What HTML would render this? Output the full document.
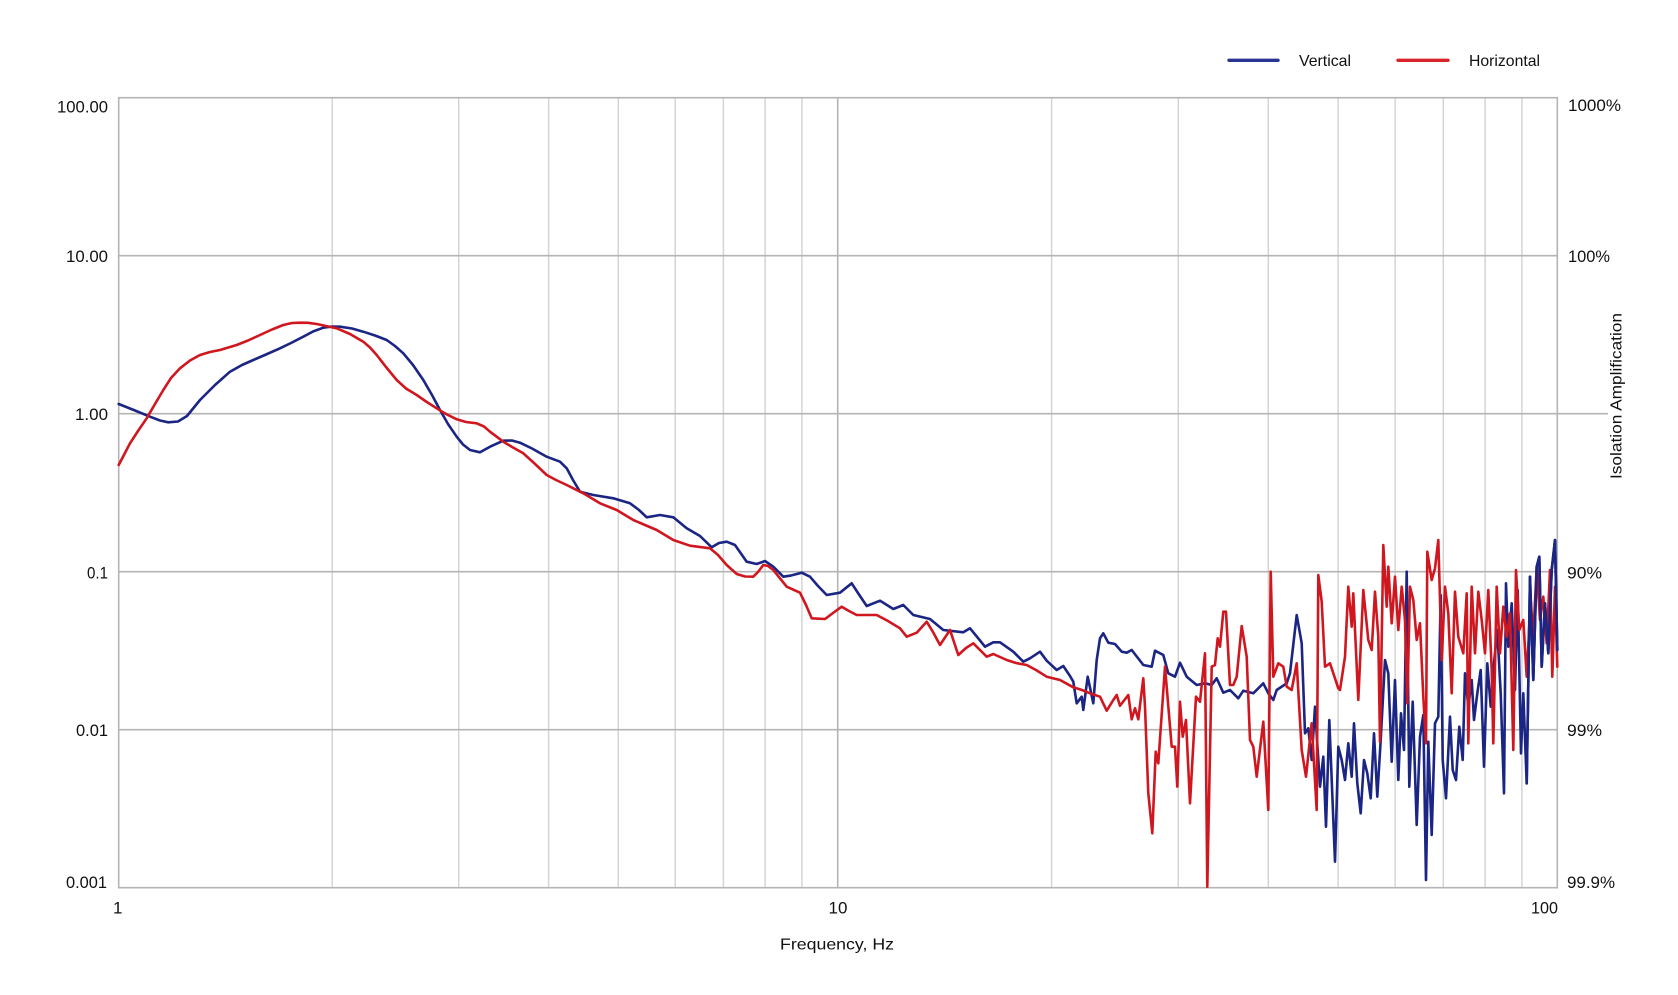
<!DOCTYPE html>
<html>
<head>
<meta charset="utf-8">
<style>
  html,body{margin:0;padding:0;background:#fff;}
  svg{display:block;}
  text{font-family:"Liberation Sans",Arial,sans-serif;fill:#111;}
</style>
</head>
<body>
<svg width="1678" height="995" viewBox="0 0 1678 995" xmlns="http://www.w3.org/2000/svg">
  <rect x="0" y="0" width="1678" height="995" fill="#fff"/>

  <!-- minor vertical gridlines -->
  <g stroke="#d2d2d2" stroke-width="1.4">
    <line x1="332.2" y1="97.7" x2="332.2" y2="887.7"/>
    <line x1="458.7" y1="97.7" x2="458.7" y2="887.7"/>
    <line x1="548.6" y1="97.7" x2="548.6" y2="887.7"/>
    <line x1="618.3" y1="97.7" x2="618.3" y2="887.7"/>
    <line x1="675.2" y1="97.7" x2="675.2" y2="887.7"/>
    <line x1="723.4" y1="97.7" x2="723.4" y2="887.7"/>
    <line x1="765.1" y1="97.7" x2="765.1" y2="887.7"/>
    <line x1="801.9" y1="97.7" x2="801.9" y2="887.7"/>
    <line x1="1051.6" y1="97.7" x2="1051.6" y2="887.7"/>
    <line x1="1178.3" y1="97.7" x2="1178.3" y2="887.7"/>
    <line x1="1268.3" y1="97.7" x2="1268.3" y2="887.7"/>
    <line x1="1338.1" y1="97.7" x2="1338.1" y2="887.7"/>
    <line x1="1395.1" y1="97.7" x2="1395.1" y2="887.7"/>
    <line x1="1443.3" y1="97.7" x2="1443.3" y2="887.7"/>
    <line x1="1485.1" y1="97.7" x2="1485.1" y2="887.7"/>
    <line x1="1521.9" y1="97.7" x2="1521.9" y2="887.7"/>
  </g>
  <!-- major gridlines -->
  <g stroke="#b4b4b4" stroke-width="1.6">
    <line x1="837.7" y1="97.7" x2="837.7" y2="887.7"/>
    <line x1="118.7" y1="255.7" x2="1557.3" y2="255.7"/>
    <line x1="118.7" y1="413.7" x2="1608" y2="413.7"/>
    <line x1="118.7" y1="571.7" x2="1557.3" y2="571.7"/>
    <line x1="118.7" y1="729.7" x2="1557.3" y2="729.7"/>
    <rect x="118.7" y="97.7" width="1438.6" height="790" fill="none"/>
  </g>

  <!-- Vertical (blue) -->
  <polyline fill="none" stroke="#1b2583" stroke-width="2.6" stroke-linejoin="round" stroke-linecap="round" points="
  118.7,404 135,410.5 150,416.7 160,420.5 168.3,422.3 178,421.5 187,416 200,400 215,385 230,371.7 242,365 253.3,360 266,354.5 280,348.3 292,342.5 303.3,336.7 313,331.5 323.3,327.7 332,326.5 340,326.7 352,328.5 363.3,331.7 375,335.5 386.7,340 395,346 403.3,353.3 413,365 423.3,380 432,395 440,410 448,424 456.7,436.7 463,444.5 470,450 480,452.3 490,446.7 503.3,440.7 512,440.5 520,442.7 532,448.5 546.7,456.7 560,461.7 566.7,468.3 573,480 580,491.7 593.3,495 613.3,498.3 630,503.3 639,510 646.7,517.3 660,515 673.3,517.3 686.7,528.3 700,536 711.7,547.3 719,543 726.7,541.7 735,545 746.7,561.7 756.7,564 765,561 773.3,566.7 783.3,576.7 790,575.7 801.7,572.7 810,576.7 818,586 826.7,595 840,592.7 851.7,583.3 858,593 866.7,606 880,600.7 893.3,609 903.3,605 913.3,615 930,619 943.3,630 963.3,632.3 970,628.3 978,638 985,646.7 993.3,642.3 1000,642.3 1013.3,651.7 1023.3,661.7 1030,658.3 1040,651.7 1046.7,660.7 1056.7,670 1063.3,666 1070,676 1073.3,681.7 1076.7,703.3 1081.7,696.7 1083.3,710 1087.7,676.7 1093.3,703.3 1096.7,660 1100,638.3 1103.3,633.3 1108.3,642.7 1115,644 1121.7,651.7 1126.7,652.7 1131.7,650 1143.3,665 1151.7,666.7 1155,650.7 1163.3,655 1168.3,673.3 1175,676.7 1180,662.7 1186.7,676.7 1196.7,685 1205,683.3 1211.7,685 1216.7,678.3 1223.3,692.7 1230,690 1238.3,698.3 1243.3,690.7 1253.3,693.3 1263.3,683.3 1268.3,693.3 1273.3,700 1276.7,690 1286.7,683.3 1290,673.3 1296.7,615 1301.7,643.3 1305,733.3 1308.3,728.3 1311.7,760 1315,706.7 1320,786.7 1323.3,756.7 1326,826.7 1329.3,720 1335,861.7 1338.3,746.7 1341.7,760 1345,780 1348.3,743.3 1351.7,776.7 1354,723.3 1357.3,783.3 1360.7,813.3 1364,760 1367.3,773.3 1370.7,798.3 1374,733.3 1377.3,796.7 1380.7,740 1385,660 1388.3,673.3 1391.7,761.7 1395,680 1398.3,780 1401,713.3 1404,750 1406.7,571.7 1409.3,786.7 1412.7,701.7 1416.7,825 1420,736.7 1423.3,715 1426,880 1428.3,741.7 1431.7,835 1435,723.3 1438.3,716.7 1440.7,595 1442.7,760 1446,798.3 1450,716.7 1452.7,770 1456,780 1459.3,726.7 1462.7,760 1465,673.3 1468.3,706.7 1471.7,680 1474,720 1477.3,693.3 1480.7,670 1484,766.7 1487.3,663.3 1490.7,706.7 1494,663.3 1497.3,630 1500.7,693.3 1504,793.3 1506,583.3 1508.3,646.7 1511.7,603.3 1515,690 1517.7,590 1521,753.3 1523.3,693.3 1526.7,783.3 1530,576.7 1533.3,680 1536.7,566.7 1539.3,556.7 1541.7,666.7 1545,603.3 1548.3,653.3 1551.7,570 1555,540 1557.3,650"/>

  <!-- Horizontal (red) -->
  <polyline fill="none" stroke="#d0171f" stroke-width="2.6" stroke-linejoin="round" stroke-linecap="round" points="
  118.7,465 130,443.3 138,431 146.7,418.3 155,404 163.3,390 171,378 180,368.3 190,360.5 200,355 210,352 220,350 236.7,345 248,340.5 260,335 272,329.5 283.3,325 292,323 300,322.7 308,322.8 316.7,324 326,326 336.7,328.3 350,334 363.3,341.7 370,347.5 376.7,355 386,367 396.7,380 406,388.5 416.7,395 426,401.5 436.7,408.3 446,414 456.7,419.3 466,422 476.7,423.3 484,426.5 490,431.7 503.3,441.7 513,447.5 523.3,453.3 534,463 546.7,475 556,480 566.7,485 583.3,493.3 600,503.3 616.7,510 633.3,520 645,525 656.7,530 673.3,540 690,545.7 710,548.3 718,555 726.7,565 736.7,574 745,576.5 753.3,576.7 758,572 763.3,565 768,566 773.3,570 786.7,586.7 800,592.7 806,605 811.7,618.3 825,619 833,613 841.7,606.7 849,611 856.7,615 866,615 876.7,615 888,621 900,628.3 906.7,636.7 916.7,632.7 926.7,621.7 933,632 940,645 950,630 958.3,655 966,648 973.3,643.3 980,650 986.7,656.7 993.3,654 1006.7,660 1016,663 1026.7,665 1036,670 1046.7,676.7 1060,680 1073.3,687.3 1082,690 1090,693.3 1100,696.7 1106.7,710.7 1113.3,700 1116.7,695 1120,705.7 1128.3,695 1131.7,719.3 1135,708.3 1138.3,719.3 1143.3,678.3 1145,706.7 1148.3,793.3 1152.3,833.3 1155.7,751.7 1158.3,763.3 1165,666.7 1171.7,746.7 1175,746.7 1177.3,786.7 1180,701.7 1182.7,736.7 1186,720 1190,803.3 1196,696.7 1200,701.7 1205,653.3 1207.3,886.7 1211.7,666.7 1215,665 1217.7,638.3 1220,646.7 1223.3,611.7 1226,611.7 1230,685 1233.3,685 1236.7,676.7 1241.7,626 1246.7,656.7 1250,740 1253.3,746.7 1256.7,776.7 1263.3,721.7 1268.3,810 1270.7,571.7 1273.3,676.7 1278.3,663.3 1283.3,666.7 1286.7,686.7 1291.7,690 1296.7,663.3 1301.7,750 1306,776.7 1311.7,723.3 1316.7,810 1318.3,575 1321.7,601.7 1325,666.7 1330,663.3 1335,678.3 1338.3,688.3 1340,690 1345,656.7 1348.3,586.7 1351.7,626.7 1353.3,593.3 1358.3,700 1363.3,590 1368.3,640 1371.7,650 1375,591.7 1378.3,636.7 1380,741.7 1383.3,545 1386.7,606.7 1388.3,566.7 1391.7,623.3 1395,576.7 1398.3,630 1401.7,586.7 1405,620 1407.3,703.3 1410,586.7 1413.3,600 1416.7,640 1420,623.3 1423.3,696.7 1426,743.3 1427.3,551.7 1431.7,580 1435,568.3 1438.3,540 1441.7,660 1445,586.7 1448.3,613.3 1451.7,693.3 1455,591.7 1458.3,636.7 1463.3,653.3 1466.7,593.3 1468.3,743.3 1471.7,586.7 1475,653.3 1478.3,591.7 1481.7,620 1485,653.3 1488.3,590 1491.7,670 1493.3,743.3 1496.7,586.7 1500,653.3 1503.3,606.7 1506.7,636.7 1510,613.3 1513.3,750 1516,570 1519.3,630 1523.3,620 1526.7,676.7 1530.7,600 1533.3,636.7 1536.7,566.7 1540,620 1543.3,596.7 1546.7,643.3 1550,570 1552.3,676.7 1555,586.7 1557.3,666.7"/>

  <!-- blue on top at far right -->
  <polyline fill="none" stroke="#1b2583" stroke-width="2.6" stroke-linejoin="round" stroke-linecap="round" points="
  1526.7,783.3 1530,576.7 1533.3,680 1536.7,566.7 1539.3,556.7 1541.7,666.7 1545,603.3 1548.3,653.3 1551.7,570 1555,540 1557.3,650"/>

  <!-- Y labels left -->
  <g font-size="17" text-anchor="end">
    <text x="108" y="112.5" textLength="51" lengthAdjust="spacingAndGlyphs">100.00</text>
    <text x="108" y="262" textLength="42" lengthAdjust="spacingAndGlyphs">10.00</text>
    <text x="108" y="420" textLength="33" lengthAdjust="spacingAndGlyphs">1.00</text>
    <text x="108" y="578.5" textLength="21" lengthAdjust="spacingAndGlyphs">0.1</text>
    <text x="108" y="736" textLength="32" lengthAdjust="spacingAndGlyphs">0.01</text>
    <text x="107" y="888" textLength="41" lengthAdjust="spacingAndGlyphs">0.001</text>
  </g>
  <!-- Y labels right -->
  <g font-size="17">
    <text x="1568" y="111" textLength="53" lengthAdjust="spacingAndGlyphs">1000%</text>
    <text x="1568" y="262" textLength="42" lengthAdjust="spacingAndGlyphs">100%</text>
    <text x="1567" y="578.5" textLength="35" lengthAdjust="spacingAndGlyphs">90%</text>
    <text x="1567" y="736" textLength="35" lengthAdjust="spacingAndGlyphs">99%</text>
    <text x="1567" y="888" textLength="48" lengthAdjust="spacingAndGlyphs">99.9%</text>
  </g>
  <!-- X labels -->
  <g font-size="17" text-anchor="middle">
    <text x="117.7" y="913.5">1</text>
    <text x="838" y="913.5">10</text>
    <text x="1544.5" y="913.5" textLength="27" lengthAdjust="spacingAndGlyphs">100</text>
  </g>
  <text x="837" y="949.5" font-size="16" text-anchor="middle" textLength="114" lengthAdjust="spacingAndGlyphs">Frequency, Hz</text>

  <!-- right axis title -->
  <text transform="translate(1621.5,396) rotate(-90)" font-size="16" text-anchor="middle" textLength="166" lengthAdjust="spacingAndGlyphs">Isolation  Amplification</text>

  <!-- legend -->
  <line x1="1229" y1="60.3" x2="1278" y2="60.3" stroke="#2a3593" stroke-width="3.4" stroke-linecap="round"/>
  <text x="1299" y="66" font-size="16" textLength="52" lengthAdjust="spacingAndGlyphs">Vertical</text>
  <line x1="1398" y1="60.3" x2="1448" y2="60.3" stroke="#d9232b" stroke-width="3.4" stroke-linecap="round"/>
  <text x="1469" y="66" font-size="16" textLength="71" lengthAdjust="spacingAndGlyphs">Horizontal</text>
</svg>
</body>
</html>
